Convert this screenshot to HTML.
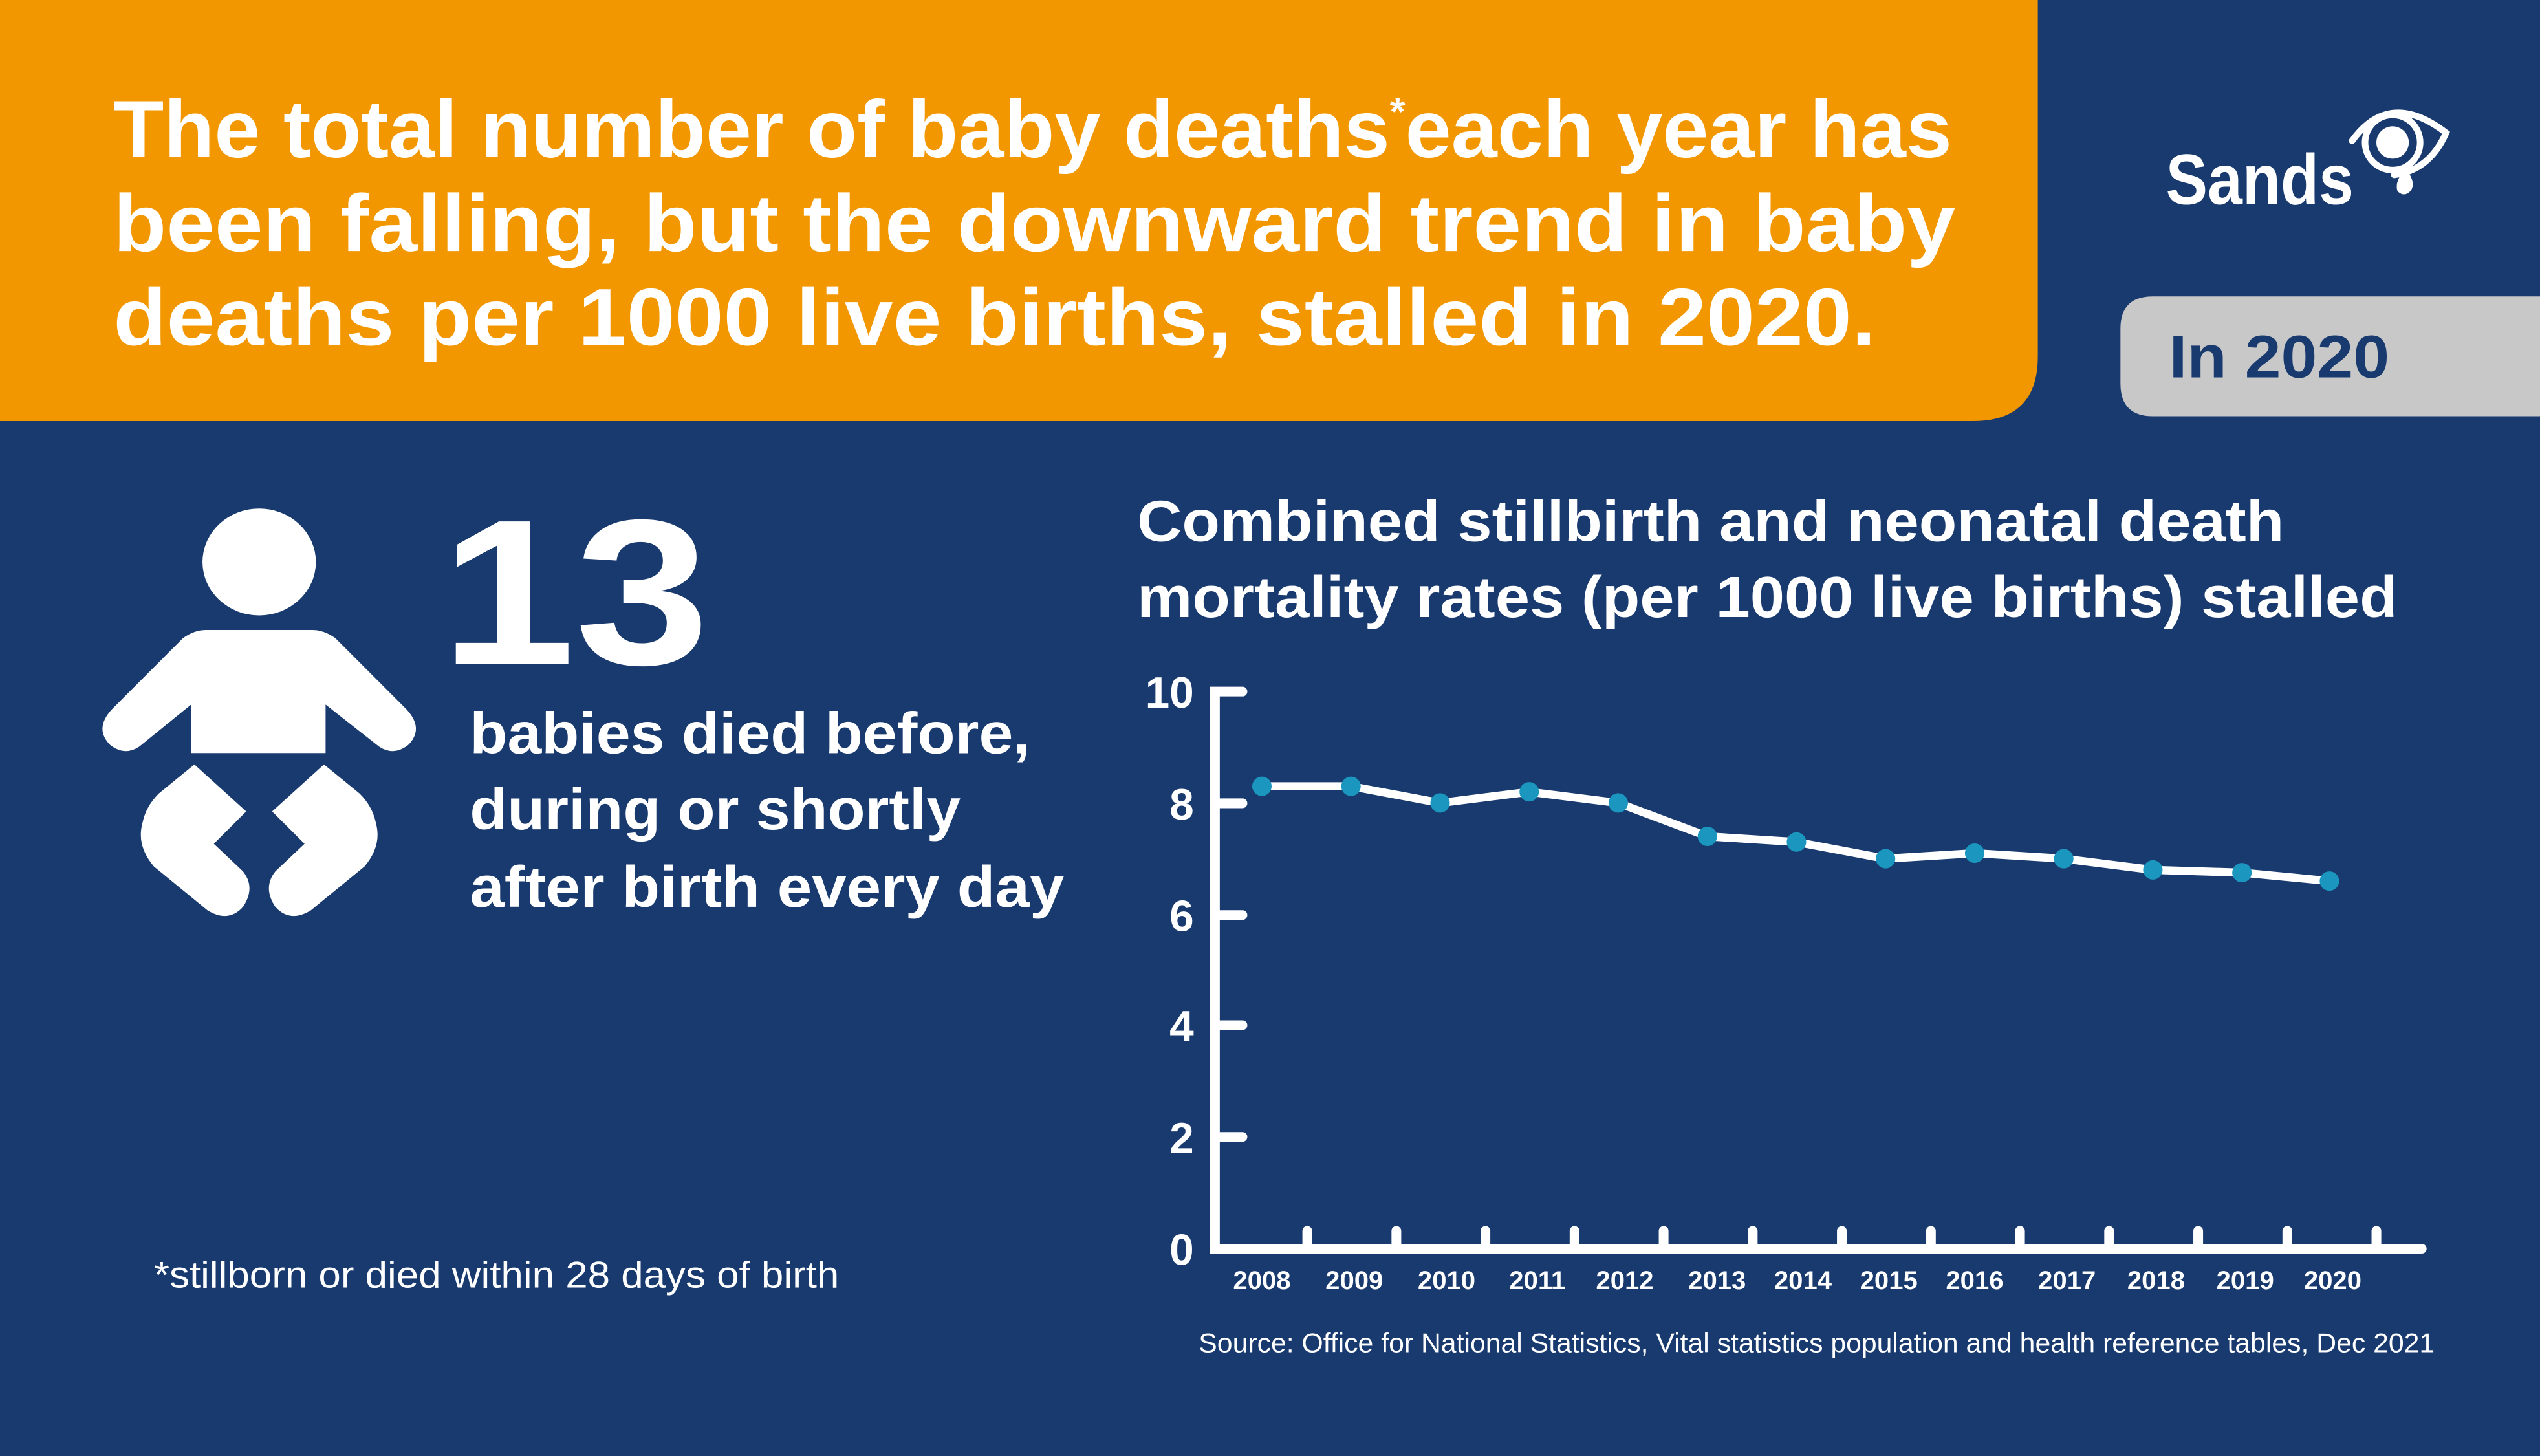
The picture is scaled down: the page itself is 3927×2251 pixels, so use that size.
<!DOCTYPE html>
<html><head><meta charset="utf-8"><style>
html,body{margin:0;padding:0;background:#183A6E;}
svg{display:block;}
text{font-family:"Liberation Sans",sans-serif;font-weight:bold;}
</style></head><body>
<svg width="3927" height="2251" viewBox="0 0 1568 899" preserveAspectRatio="none" xmlns="http://www.w3.org/2000/svg">
<rect x="0" y="0" width="1568" height="899" fill="#183A6E"/>
<path d="M0,0 H1258 V220 Q1258,260 1218,260 H0 Z" fill="#F39700"/>
<text x="70" y="97" font-size="50" fill="#fff" textLength="1135" lengthAdjust="spacingAndGlyphs">The total number of baby deaths<tspan font-size="24" dy="-20">*</tspan><tspan dy="20">each year has</tspan></text>
<text x="70" y="155" font-size="50" fill="#fff" textLength="1137" lengthAdjust="spacingAndGlyphs">been falling, but the downward trend in baby</text>
<text x="70" y="213" font-size="50" fill="#fff" textLength="1088" lengthAdjust="spacingAndGlyphs">deaths per 1000 live births, stalled in 2020.</text>
<path d="M1329,183 H1568 V257 H1329 Q1309,257 1309,237 V203 Q1309,183 1329,183 Z" fill="#C8C8C8"/>
<text x="1339" y="233" font-size="37" fill="#183A6E" textLength="136" lengthAdjust="spacingAndGlyphs">In 2020</text>
<text x="1337" y="126" font-size="44" fill="#fff" textLength="116" lengthAdjust="spacingAndGlyphs">Sands</text>
<path d="M1452,87 Q1475,55 1510,82 Q1500,105 1478,108" fill="none" stroke="#fff" stroke-width="4" stroke-linecap="round"/>
<circle cx="1477" cy="88" r="17" fill="none" stroke="#fff" stroke-width="4"/>
<circle cx="1477" cy="88" r="10" fill="#fff"/>
<path d="M1485,104 Q1492,113 1488,118 Q1484,122 1480,118 Q1478,112 1485,104 Z" fill="#fff"/>
<ellipse cx="160" cy="347" rx="35" ry="33" fill="#fff"/>
<path d="M127,389 L193,389 Q200,389 207,394 L251,438 Q262,450 252,460 Q243,467 234,461 L201,435 L201,465 L118,465 L118,435 L86,461 Q77,467 68,460 Q58,450 69,438 L113,394 Q120,389 127,389 Z" fill="#fff"/>
<path d="M120,472 L152,501 L132,521 L150,538 Q158,548 150,560 Q141,570 128,562 L95,535 Q84,522 88,508 Q90,498 98,490 Z" fill="#fff"/>
<path d="M200,472 L168,501 L188,521 L170,538 Q162,548 170,560 Q179,570 192,562 L225,535 Q236,522 232,508 Q230,498 222,490 Z" fill="#fff"/>
<text x="272" y="410" font-size="128" fill="#fff" textLength="166" lengthAdjust="spacingAndGlyphs">13</text>
<text x="290" y="465" font-size="36" fill="#fff" textLength="346" lengthAdjust="spacingAndGlyphs">babies died before,</text>
<text x="290" y="512" font-size="36" fill="#fff" textLength="303" lengthAdjust="spacingAndGlyphs">during or shortly</text>
<text x="290" y="560" font-size="36" fill="#fff" textLength="367" lengthAdjust="spacingAndGlyphs">after birth every day</text>
<text x="95" y="795" font-size="23" fill="#fff" style="font-weight:normal" textLength="423" lengthAdjust="spacingAndGlyphs">*stillborn or died within 28 days of birth</text>
<text x="702" y="334" font-size="36" fill="#fff" textLength="708" lengthAdjust="spacingAndGlyphs">Combined stillbirth and neonatal death</text>
<text x="702" y="381" font-size="36" fill="#fff" textLength="778" lengthAdjust="spacingAndGlyphs">mortality rates (per 1000 live births) stalled</text>
<g stroke="#fff" stroke-width="6" stroke-linecap="round" fill="none">
<path d="M767,427 H750 V771 H1495"/>
<path d="M750,496 H767 M750,565 H767 M750,633 H767 M750,702 H767"/>
<path d="M807,771 V760 M862,771 V760 M917,771 V760 M972,771 V760 M1027,771 V760 M1082,771 V760 M1137,771 V760 M1192,771 V760 M1247,771 V760 M1302,771 V760 M1357,771 V760 M1412,771 V760 M1467,771 V760"/>
</g>
<g font-size="27" fill="#fff" text-anchor="end">
<text x="737" y="437">10</text><text x="737" y="506">8</text><text x="737" y="575">6</text><text x="737" y="643">4</text><text x="737" y="712">2</text><text x="737" y="781">0</text>
</g>
<g font-size="16" fill="#fff" text-anchor="middle">
<text x="779" y="796">2008</text><text x="836" y="796">2009</text><text x="893" y="796">2010</text><text x="949" y="796">2011</text><text x="1003" y="796">2012</text><text x="1060" y="796">2013</text><text x="1113" y="796">2014</text><text x="1166" y="796">2015</text><text x="1219" y="796">2016</text><text x="1276" y="796">2017</text><text x="1331" y="796">2018</text><text x="1386" y="796">2019</text><text x="1440" y="796">2020</text>
</g>
<polyline points="779,485.5 834,485.5 889,495.8 944,488.9 999,495.8 1054,516.4 1109,519.9 1164,530.2 1219,526.8 1274,530.2 1329,537.1 1384,538.8 1438,544" fill="none" stroke="#fff" stroke-width="5" stroke-linejoin="round"/>
<g fill="#1B96BE">
<circle cx="779" cy="485.5" r="6"/><circle cx="834" cy="485.5" r="6"/><circle cx="889" cy="495.8" r="6"/><circle cx="944" cy="488.9" r="6"/><circle cx="999" cy="495.8" r="6"/><circle cx="1054" cy="516.4" r="6"/><circle cx="1109" cy="519.9" r="6"/><circle cx="1164" cy="530.2" r="6"/><circle cx="1219" cy="526.8" r="6"/><circle cx="1274" cy="530.2" r="6"/><circle cx="1329" cy="537.1" r="6"/><circle cx="1384" cy="538.8" r="6"/><circle cx="1438" cy="544" r="6"/>
</g>
<text x="740" y="835" font-size="16.5" fill="#fff" style="font-weight:normal" textLength="763" lengthAdjust="spacingAndGlyphs">Source: Office for National Statistics, Vital statistics population and health reference tables, Dec 2021</text>
</svg>
</body></html>
